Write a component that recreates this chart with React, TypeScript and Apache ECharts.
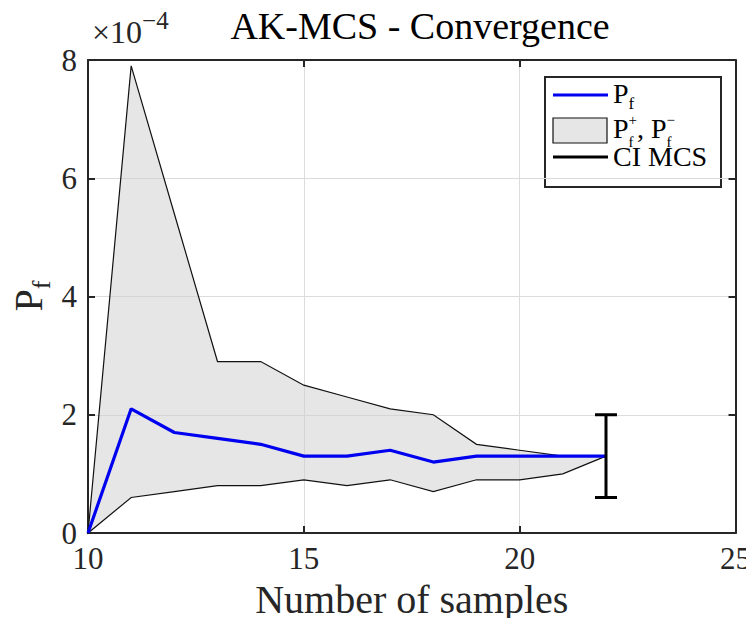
import React, { useEffect, useRef } from "react";
import * as echarts from "echarts";

const samples = [10, 11, 12, 13, 14, 15, 16, 17, 18, 19, 20, 21, 22];
const pf = [0, 2.1, 1.7, 1.6, 1.5, 1.3, 1.3, 1.4, 1.2, 1.3, 1.3, 1.3, 1.3];
const pfUpper = [0, 7.9, 5.4, 2.9, 2.9, 2.5, 2.3, 2.1, 2.0, 1.5, 1.4, 1.3, 1.3];
const pfLower = [0, 0.6, 0.7, 0.8, 0.8, 0.9, 0.8, 0.9, 0.7, 0.9, 0.9, 1.0, 1.3];
const ciMcs = [22, 0.6, 2.0]; // x, low, high
const xTicks = [10, 15, 20, 25];
const yTicks = [0, 2, 4, 6, 8];

const FONT = "Liberation Serif";
const AX = "#262626";

let _ctx: CanvasRenderingContext2D | null = null;
function tw(text: string, size: number): number {
  if (!_ctx) _ctx = document.createElement("canvas").getContext("2d");
  _ctx!.font = `${size}px ${FONT}, serif`;
  return _ctx!.measureText(text).width;
}

type Part = { t: string; s: number; dy?: number; stack?: { t: string; s: number; dy: number }[] };

function txt(t: string, s: number, x: number, baseline: number, color: string) {
  return {
    type: "text",
    x,
    y: baseline - 0.3375 * s,
    style: {
      text: t,
      font: `${s}px ${FONT}, serif`,
      fontSize: s,
      fontFamily: FONT,
      fill: color,
      align: "left",
      verticalAlign: "middle",
      textAlign: "left",
      textVerticalAlign: "middle",
    },
  };
}
function texRun(parts: Part[], color = "#000"): any[] {
  const out: any[] = [];
  let x = 0;
  for (const p of parts) {
    if (p.stack) {
      let w = 0;
      for (const q of p.stack) {
        out.push(txt(q.t, q.s, x, q.dy, color));
        w = Math.max(w, tw(q.t, q.s));
      }
      x += w;
    } else {
      out.push(txt(p.t, p.s, x, p.dy || 0, color));
      x += tw(p.t, p.s);
    }
  }
  return out;
}
function runWidth(parts: Part[]): number {
  let x = 0;
  for (const p of parts) {
    if (p.stack) x += Math.max(...p.stack.map((q) => tw(q.t, q.s)));
    else x += tw(p.t, p.s);
  }
  return x;
}

export default function App() {
  const ref = useRef<HTMLDivElement>(null);
  useEffect(() => {
    const chart = echarts.init(ref.current!, null, { renderer: "svg" });

    const yLabelParts: Part[] = [
      { t: "P", s: 40 },
      { t: "f", s: 26, dy: 8 },
    ];
    const yW = runWidth(yLabelParts);

    const legendFs = 28;
    const row1: Part[] = [
      { t: "P", s: legendFs },
      { t: "f", s: 17, dy: 6 },
    ];
    const row2: Part[] = [
      { t: "P", s: legendFs },
      { t: "", s: 15, stack: [{ t: "+", s: 15, dy: -13 }, { t: "f", s: 15, dy: 9 }] },
      { t: ", P", s: legendFs },
      { t: "", s: 15, stack: [{ t: "\u2212", s: 15, dy: -13 }, { t: "f", s: 15, dy: 9 }] },
    ];
    const row3: Part[] = [{ t: "CI MCS", s: legendFs }];

    const option: any = {
      animation: false,
      backgroundColor: "#ffffff",
      title: {
        text: "AK-MCS - Convergence",
        left: 415,
        top: 2,
        textAlign: "center",
        textStyle: { fontFamily: FONT, fontSize: 38, fontWeight: "normal", color: "#000" },
      },
      grid: { left: 88, right: 17, top: 60, bottom: 93, containLabel: false },
      xAxis: [
        {
          type: "value",
          min: 10,
          max: 25,
          interval: 5,
          position: "bottom",
          axisLine: { show: true, onZero: false, lineStyle: { color: AX, width: 2 } },
          axisTick: { show: true, inside: true, length: 7, lineStyle: { color: AX, width: 2 } },
          axisLabel: {
            fontFamily: FONT,
            fontSize: 31,
            color: AX,
            margin: 10,
            formatter: (v: number) => (xTicks.includes(v) ? String(v) : ""),
          },
          splitLine: { show: true, lineStyle: { color: "#dcdcdc", width: 1 } },
          name: "Number of samples",
          nameLocation: "middle",
          nameGap: 46,
          nameTextStyle: { fontFamily: FONT, fontSize: 40, color: AX },
        },
        {
          type: "value",
          min: 10,
          max: 25,
          interval: 5,
          position: "top",
          axisLine: { show: true, onZero: false, lineStyle: { color: AX, width: 2 } },
          axisTick: { show: true, inside: true, length: 7, lineStyle: { color: AX, width: 2 } },
          axisLabel: { show: false },
          splitLine: { show: false },
        },
      ],
      yAxis: [
        {
          type: "value",
          min: 0,
          max: 8,
          interval: 2,
          position: "left",
          axisLine: { show: true, onZero: false, lineStyle: { color: AX, width: 2 } },
          axisTick: { show: true, inside: true, length: 7, lineStyle: { color: AX, width: 2 } },
          axisLabel: {
            fontFamily: FONT,
            fontSize: 31,
            color: AX,
            margin: 11,
            formatter: (v: number) => (yTicks.includes(v) ? String(v) : ""),
          },
          splitLine: { show: true, lineStyle: { color: "#dcdcdc", width: 1 } },
        },
        {
          type: "value",
          min: 0,
          max: 8,
          interval: 2,
          position: "right",
          axisLine: { show: true, onZero: false, lineStyle: { color: AX, width: 2 } },
          axisTick: { show: true, inside: true, length: 7, lineStyle: { color: AX, width: 2 } },
          axisLabel: { show: false },
          splitLine: { show: false },
        },
      ],
      series: [
        {
          type: "custom",
          name: "Pf bounds",
          xAxisIndex: 0,
          yAxisIndex: 0,
          z: 1,
          data: [[samples[0], pfLower[0]]],
          renderItem: (_params: any, api: any) => {
            const up = samples.map((x, i) => api.coord([x, pfUpper[i]]));
            const lo = samples.map((x, i) => api.coord([x, pfLower[i]])).reverse();
            return {
              type: "polygon",
              shape: { points: up.concat(lo) },
              style: { fill: "rgba(205,205,205,0.5)", stroke: "#111", lineWidth: 1.2 },
            };
          },
        },
        {
          type: "line",
          name: "Pf",
          xAxisIndex: 0,
          yAxisIndex: 0,
          z: 3,
          symbol: "none",
          data: samples.map((x, i) => [x, pf[i]]),
          lineStyle: { color: "#0000f0", width: 3.2 },
        },
        {
          type: "custom",
          name: "CI MCS",
          xAxisIndex: 0,
          yAxisIndex: 0,
          z: 4,
          data: [ciMcs],
          renderItem: (_params: any, api: any) => {
            const top = api.coord([api.value(0), api.value(2)]);
            const bot = api.coord([api.value(0), api.value(1)]);
            const cw = 11;
            const st = { stroke: "#000", lineWidth: 3 };
            return {
              type: "group",
              children: [
                { type: "line", shape: { x1: top[0], y1: top[1], x2: bot[0], y2: bot[1] }, style: st },
                { type: "line", shape: { x1: top[0] - cw, y1: top[1], x2: top[0] + cw, y2: top[1] }, style: st },
                { type: "line", shape: { x1: bot[0] - cw, y1: bot[1], x2: bot[0] + cw, y2: bot[1] }, style: st },
              ],
            };
          },
        },
      ],
      graphic: [
        {
          type: "group",
          x: 42,
          y: 296 + yW / 2,
          rotation: Math.PI / 2,
          children: texRun(yLabelParts, AX),
        },
        {
          type: "group",
          x: 92,
          y: 43,
          children: texRun(
            [
              { t: "\u00d710", s: 32 },
              { t: "\u22124", s: 25, dy: -14 },
            ],
            AX
          ),
        },
        {
          type: "group",
          x: 0,
          y: 0,
          z: 100,
          children: [
            {
              type: "rect",
              shape: { x: 545, y: 77, width: 176, height: 110 },
              style: { fill: "#fff", stroke: AX, lineWidth: 2 },
            },
            {
              type: "line",
              shape: { x1: 553, y1: 95, x2: 608, y2: 95 },
              style: { stroke: "#0000f0", lineWidth: 3 },
            },
            {
              type: "rect",
              shape: { x: 553, y: 118, width: 54, height: 25 },
              style: { fill: "#e6e6e6", stroke: "#111", lineWidth: 1.2 },
            },
            {
              type: "line",
              shape: { x1: 553, y1: 157, x2: 608, y2: 157 },
              style: { stroke: "#000", lineWidth: 3 },
            },
            { type: "group", x: 613, y: 103, children: texRun(row1, "#000") },
            { type: "group", x: 613, y: 138, children: texRun(row2, "#000") },
            { type: "group", x: 613, y: 166, children: texRun(row3, "#000") },
          ],
        },
      ],
    };
    chart.setOption(option);
    return () => chart.dispose();
  }, []);
  return <div ref={ref} style={{ width: 754, height: 626, margin: -8 }} />;
}
